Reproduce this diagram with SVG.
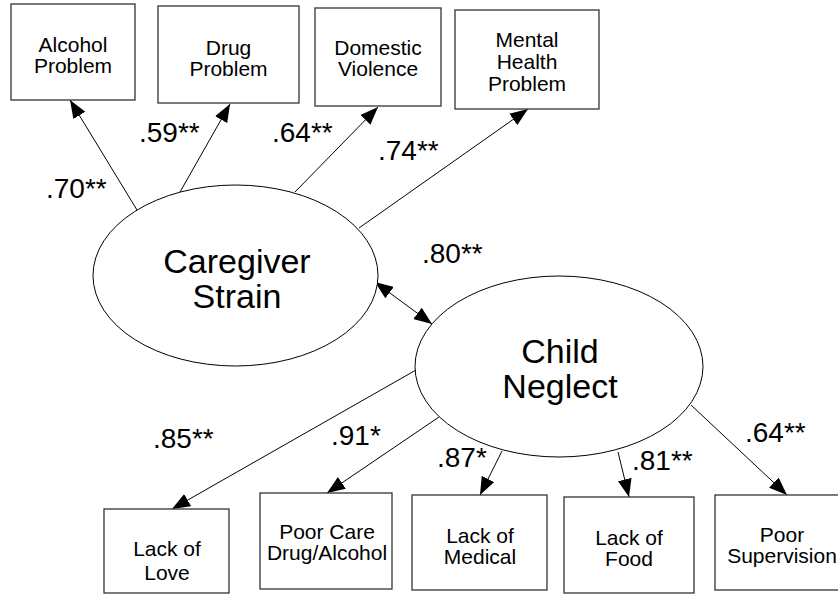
<svg xmlns="http://www.w3.org/2000/svg" width="838" height="594" viewBox="0 0 838 594">
  <defs>
    <marker id="head" viewBox="0 0 18 14" refX="18" refY="7" markerWidth="18" markerHeight="14" markerUnits="userSpaceOnUse" orient="auto-start-reverse">
      <path d="M0,0 L18,7 L0,14 z" fill="#000"/>
    </marker>
    <style>
      .box { fill: #fff; stroke: #333; stroke-width: 1.3; }
      .latent { fill: #fff; stroke: #000; stroke-width: 1; }
      .lbl { font-family: "Liberation Sans", Arial, sans-serif; font-size: 21px; fill: #000; text-anchor: middle; }
      .big { font-family: "Liberation Sans", Arial, sans-serif; font-size: 34px; fill: #000; text-anchor: middle; }
      .coef { font-family: "Liberation Sans", Arial, sans-serif; font-size: 28px; fill: #000; }
      .path { stroke: #000; stroke-width: 1; fill: none; marker-end: url(#head); }
      .both { marker-start: url(#head); }
    </style>
  </defs>
  <rect width="838" height="594" fill="#fff"/>

  <!-- connectors -->
  <g id="connectors">
    <line class="path" x1="137" y1="210" x2="70" y2="100"/>
    <line class="path" x1="180" y1="192" x2="230" y2="104"/>
    <line class="path" x1="295" y1="192" x2="378" y2="107"/>
    <line class="path" x1="359" y1="228" x2="528" y2="109"/>
    <line class="path both" x1="375" y1="282" x2="432" y2="324"/>
    <line class="path" x1="416" y1="370" x2="172" y2="509"/>
    <line class="path" x1="439" y1="417" x2="327" y2="493"/>
    <line class="path" x1="502" y1="451" x2="480" y2="495"/>
    <line class="path" x1="618" y1="452" x2="629" y2="497"/>
    <line class="path" x1="691" y1="405" x2="787" y2="495"/>
  </g>

  <!-- indicators of caregiver strain -->
  <g id="alcohol-problem">
    <rect class="box" x="11" y="4" width="124" height="96"/>
    <text class="lbl" x="73" y="52">Alcohol</text>
    <text class="lbl" x="73" y="73">Problem</text>
  </g>
  <g id="drug-problem">
    <rect class="box" x="158" y="6" width="141" height="97"/>
    <text class="lbl" x="228.5" y="55">Drug</text>
    <text class="lbl" x="228.5" y="76">Problem</text>
  </g>
  <g id="domestic-violence">
    <rect class="box" x="315" y="8" width="126" height="98"/>
    <text class="lbl" x="378" y="55">Domestic</text>
    <text class="lbl" x="378" y="76">Violence</text>
  </g>
  <g id="mental-health-problem">
    <rect class="box" x="455" y="10" width="144" height="99"/>
    <text class="lbl" x="527" y="47">Mental</text>
    <text class="lbl" x="527" y="69">Health</text>
    <text class="lbl" x="527" y="91">Problem</text>
  </g>

  <!-- latent factors -->
  <g id="caregiver-strain">
    <ellipse class="latent" cx="235.5" cy="275.5" rx="142.5" ry="90.5"/>
    <text class="big" x="237" y="273">Caregiver</text>
    <text class="big" x="237" y="308">Strain</text>
  </g>
  <g id="child-neglect">
    <ellipse class="latent" cx="559" cy="366.5" rx="144" ry="90.5"/>
    <text class="big" x="560" y="363">Child</text>
    <text class="big" x="560" y="398">Neglect</text>
  </g>

  <!-- indicators of child neglect -->
  <g id="lack-of-love">
    <rect class="box" x="104" y="509" width="125" height="84"/>
    <text class="lbl" x="167" y="556">Lack of</text>
    <text class="lbl" x="167" y="580">Love</text>
  </g>
  <g id="poor-care">
    <rect class="box" x="260" y="493" width="132" height="96"/>
    <text class="lbl" x="327" y="539">Poor Care</text>
    <text class="lbl" x="327" y="560">Drug/Alcohol</text>
  </g>
  <g id="lack-of-medical">
    <rect class="box" x="412" y="495" width="135" height="95"/>
    <text class="lbl" x="480" y="543">Lack of</text>
    <text class="lbl" x="480" y="564">Medical</text>
  </g>
  <g id="lack-of-food">
    <rect class="box" x="564" y="497" width="130" height="96"/>
    <text class="lbl" x="629" y="545">Lack of</text>
    <text class="lbl" x="629" y="566">Food</text>
  </g>
  <g id="poor-supervision">
    <rect class="box" x="715" y="495" width="130" height="95"/>
    <text class="lbl" x="782" y="542">Poor</text>
    <text class="lbl" x="782" y="563">Supervision</text>
  </g>

  <!-- path coefficients -->
  <g id="coefficients">
    <text class="coef" x="46" y="198">.70**</text>
    <text class="coef" x="139" y="142">.59**</text>
    <text class="coef" x="272" y="142">.64**</text>
    <text class="coef" x="378" y="160">.74**</text>
    <text class="coef" x="422" y="263">.80**</text>
    <text class="coef" x="153" y="448">.85**</text>
    <text class="coef" x="331" y="445">.91*</text>
    <text class="coef" x="437" y="467">.87*</text>
    <text class="coef" x="632" y="470">.81**</text>
    <text class="coef" x="745" y="442">.64**</text>
  </g>
</svg>
